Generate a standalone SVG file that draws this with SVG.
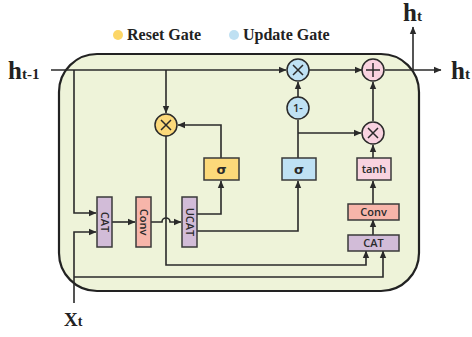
<svg xmlns="http://www.w3.org/2000/svg" width="472" height="337" viewBox="0 0 472 337">
<style>
.ln{fill:none;stroke:#2a2a2a;stroke-width:1.6}
.bx{stroke:#3a3a3a;stroke-width:1.5}
.lab{font-family:"Liberation Serif",serif;font-weight:bold;fill:#222}
.nt{font-family:"Open Sans","Liberation Sans",sans-serif;font-weight:600;font-size:11px;fill:#2a2a2a;text-anchor:middle}
.sg{font-family:"DejaVu Sans",sans-serif;font-weight:bold;font-size:13px;fill:#2a2a2a;text-anchor:middle}
.op{stroke:#2a2a2a;stroke-width:1.5}
.sym{stroke:#2a2a2a;stroke-width:1.5;fill:none}
</style>
<defs>
<marker id="ah" markerWidth="8" markerHeight="8" refX="7" refY="4" orient="auto" markerUnits="userSpaceOnUse">
<path d="M0,0.8 L7.5,4 L0,7.2 Z" fill="#2a2a2a"/>
</marker>
</defs>
<rect x="59" y="54" width="360" height="237" rx="38" fill="#eef3d9" stroke="#222" stroke-width="2.2"/>

<g id="legend">
<circle cx="118" cy="35" r="5" fill="#fcd667"/>
<text class="lab" x="127" y="40" font-size="16">Reset Gate</text>
<circle cx="234" cy="35" r="5" fill="#bfe0f2"/>
<text class="lab" x="243" y="40" font-size="16">Update Gate</text>
</g>

<g id="connectors">
<path class="ln" d="M51,70 H286" marker-end="url(#ah)"/>
<path class="ln" d="M309,70 H362" marker-end="url(#ah)"/>
<path class="ln" d="M385,70 H441" marker-end="url(#ah)"/>
<path class="ln" d="M413,70 V27" marker-end="url(#ah)"/>
<path class="ln" d="M166,70 V113" marker-end="url(#ah)"/>
<path class="ln" d="M74,70 V213 H96" marker-end="url(#ah)"/>
<path class="ln" d="M74,303 V232 H96" marker-end="url(#ah)"/>
<path class="ln" d="M74,277 H383 V251" marker-end="url(#ah)"/>
<path class="ln" d="M166,136 V265 H366 V251" marker-end="url(#ah)"/>
<path class="ln" d="M112,222 H135" marker-end="url(#ah)"/>
<path class="ln" d="M151,222 H162 A4,4 0 0 1 170,222 H181" marker-end="url(#ah)"/>
<path class="ln" d="M197,214 H221 V181" marker-end="url(#ah)"/>
<path class="ln" d="M221,158 V125 H178" marker-end="url(#ah)"/>
<path class="ln" d="M197,231 H298 V181" marker-end="url(#ah)"/>
<path class="ln" d="M298,158 V120"/>
<path class="ln" d="M298,97 V82" marker-end="url(#ah)"/>
<path class="ln" d="M298,133 H361" marker-end="url(#ah)"/>
<path class="ln" d="M373,158 V145" marker-end="url(#ah)"/>
<path class="ln" d="M373,121 V82" marker-end="url(#ah)"/>
<path class="ln" d="M373,204 V181" marker-end="url(#ah)"/>
<path class="ln" d="M373,235 V220" marker-end="url(#ah)"/>
</g>

<g id="cat1"><rect class="bx" x="97" y="197" width="15" height="50" fill="#d2bcd8"/><text class="nt" transform="translate(104.5,222) rotate(90)" y="4">CAT</text></g>
<g id="conv1"><rect class="bx" x="136" y="197" width="15" height="50" fill="#f7b5aa"/><text class="nt" transform="translate(143.5,222) rotate(90)" y="4">Conv</text></g>
<g id="ucat"><rect class="bx" x="182" y="197" width="15" height="50" fill="#d2bcd8"/><text class="nt" transform="translate(189.5,222) rotate(90)" y="4">UCAT</text></g>

<g id="sigma-reset"><rect class="bx" x="204" y="158" width="35" height="22" fill="#fcd97a"/><text class="sg" x="221.5" y="174">σ</text></g>
<g id="sigma-update"><rect class="bx" x="282" y="158" width="34" height="22" fill="#bfe1f4"/><text class="sg" x="299" y="174">σ</text></g>
<g id="tanh"><rect class="bx" x="357" y="158" width="34" height="22" fill="#f9d3e0"/><text class="nt" x="374" y="173">tanh</text></g>
<g id="conv2"><rect class="bx" x="348" y="204" width="51" height="16" fill="#f7b5aa"/><text class="nt" x="373.5" y="216">Conv</text></g>
<g id="cat2"><rect class="bx" x="348" y="235" width="51" height="16" fill="#d2bcd8"/><text class="nt" x="373.5" y="247">CAT</text></g>

<g id="mul-reset"><circle class="op" cx="166" cy="125" r="11" fill="#fcd97a"/><path class="sym" d="M161,120 L171,130 M171,120 L161,130"/></g>
<g id="mul-update"><circle class="op" cx="298" cy="70" r="11" fill="#bfe1f4"/><path class="sym" d="M293,65 L303,75 M303,65 L293,75"/></g>
<g id="one-minus"><circle class="op" cx="298" cy="108" r="11" fill="#bfe1f4"/><text class="nt" x="298" y="112" font-size="9" font-weight="bold">1-</text></g>
<g id="add"><circle class="op" cx="373" cy="70" r="11" fill="#f9d3e0"/><path class="sym" d="M366,70 H380 M373,63 V77"/></g>
<g id="mul-cand"><circle class="op" cx="373" cy="133" r="11" fill="#f9d3e0"/><path class="sym" d="M368,128 L378,138 M378,128 L368,138"/></g>

<g id="labels">
<text class="lab" x="8" y="79" font-size="25">h<tspan font-size="15">t-1</tspan></text>
<text class="lab" x="451" y="79" font-size="25">h<tspan font-size="15">t</tspan></text>
<text class="lab" x="403" y="21" font-size="25">h<tspan font-size="15">t</tspan></text>
<text class="lab" x="64" y="326" font-size="19">X<tspan font-size="14">t</tspan></text>
</g>
</svg>
